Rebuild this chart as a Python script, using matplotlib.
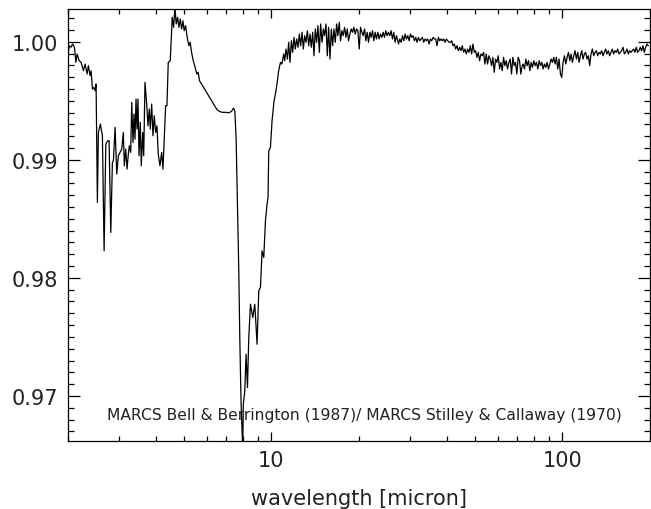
import matplotlib
matplotlib.use('Agg')
import matplotlib.pyplot as plt
from matplotlib.ticker import LogLocator, MultipleLocator, FuncFormatter, NullFormatter

# -- spectrum ratio

# 2 - 11.4 micron (band region)
wl_a = [1.998, 2.018, 2.050, 2.071, 2.104, 2.128, 2.149, 2.184, 2.218, 2.259,
        2.290, 2.326, 2.350, 2.382, 2.401, 2.426, 2.453, 2.478, 2.497, 2.523,
        2.543, 2.584, 2.625, 2.661, 2.697, 2.740, 2.768, 2.805, 2.841, 2.864,
        2.902, 2.941, 2.978, 3.018, 3.059, 3.098, 3.122, 3.157, 3.190, 3.223,
        3.248, 3.284, 3.311, 3.345, 3.371, 3.398, 3.425, 3.452, 3.479, 3.507,
        3.543, 3.571, 3.611, 3.640, 3.677, 3.727, 3.765, 3.804, 3.834, 3.877,
        3.917, 3.957, 4.001, 4.042, 4.084, 4.139, 4.195, 4.239, 4.283, 4.330,
        4.375, 4.420, 4.490, 4.533, 4.562, 4.612, 4.660, 4.708, 4.760, 4.810,
        4.859, 4.913, 4.964, 5.014, 5.070, 5.135, 5.204, 5.258, 5.316, 5.371,
        5.427, 5.487, 5.544, 5.601, 5.663, 5.754, 5.845, 5.938, 6.033, 6.129,
        6.226, 6.325, 6.426, 6.528, 6.632, 6.770, 6.954, 7.138, 7.292, 7.408,
        7.485, 7.561, 7.645, 7.724, 7.785, 7.866, 7.970, 8.004, 8.099, 8.183,
        8.273, 8.359, 8.472, 8.628, 8.765, 8.926, 9.047, 9.169, 9.285, 9.411,
        9.538, 9.659, 9.736, 9.789, 9.921, 10.05, 10.21, 10.32, 10.45, 10.59,
        10.74, 10.87, 11.02, 11.11, 11.22, 11.35]
fl_a = [0.99868, 0.99966, 0.99953, 0.99981, 0.99953, 0.99825, 0.99896, 0.99839, 0.99825, 0.99754,
        0.99811, 0.99726, 0.99797, 0.99712, 0.99754, 0.99599, 0.99614, 0.99585, 0.99642, 0.98639,
        0.99232, 0.99303, 0.99203, 0.98229, 0.99133, 0.99161, 0.99161, 0.98385, 0.98978, 0.98992,
        0.99275, 0.98879, 0.99034, 0.99063, 0.99091, 0.99232, 0.98949, 0.99091, 0.98921, 0.99048,
        0.99119, 0.99063, 0.99486, 0.99147, 0.99387, 0.99175, 0.99514, 0.99260, 0.99514, 0.99034,
        0.99317, 0.98949, 0.99232, 0.99034, 0.99656, 0.99472, 0.99288, 0.99430, 0.99260, 0.99472,
        0.99203, 0.99373, 0.99232, 0.99288, 0.99048, 0.98949, 0.99063, 0.98921, 0.99175, 0.99458,
        0.99458, 0.99825, 0.99839, 1.00065, 1.00207, 1.00122, 1.00290, 1.00150, 1.00207, 1.00122,
        1.00192, 1.00108, 1.00178, 1.00093, 1.00136, 1.00037, 0.99966, 0.99995, 0.99910, 0.99853,
        0.99811, 0.99769, 0.99726, 0.99741, 0.99669, 0.99642, 0.99614, 0.99585, 0.99557, 0.99529,
        0.99500, 0.99472, 0.99444, 0.99421, 0.99410, 0.99402, 0.99402, 0.99398, 0.99410, 0.99438,
        0.99415, 0.99190, 0.98625, 0.98059, 0.97495, 0.96930, 0.96550, 0.96930, 0.97042, 0.97353,
        0.97071, 0.97495, 0.97777, 0.97664, 0.97777, 0.97438, 0.97890, 0.97919, 0.98229, 0.98173,
        0.98483, 0.98625, 0.98681, 0.99076, 0.99105, 0.99331, 0.99500, 0.99557, 0.99642, 0.99754,
        0.99825, 0.99811, 0.99896, 0.99839, 0.99938, 0.99853]

# 11.5 - 27 micron
wl_c = [11.46, 11.58, 11.71, 11.83, 11.96, 12.08, 12.21, 12.34, 12.47, 12.60,
        12.74, 12.87, 13.01, 13.15, 13.29, 13.43, 13.57, 13.71, 13.86, 14.00,
        14.15, 14.30, 14.45, 14.61, 14.76, 14.92, 15.08, 15.23, 15.40, 15.56,
        15.72, 15.89, 16.06, 16.23, 16.40, 16.57, 16.75, 16.92, 17.10, 17.28,
        17.47, 17.65, 17.84, 18.03, 18.22, 18.41, 18.61, 18.80, 19.00, 19.20,
        19.41, 19.61, 19.82, 20.03, 20.24, 20.46, 20.67, 20.89, 21.11, 21.33,
        21.56, 21.79, 22.02, 22.25, 22.49, 22.73, 22.96, 23.21, 23.45, 23.70,
        23.95, 24.21, 24.46, 24.72, 24.98, 25.25, 25.51, 25.78, 26.06, 26.33,
        26.61, 26.89, 27.18]
fl_c = [0.99995, 0.99825, 1.00008, 0.99910, 1.00037, 0.99938, 1.00023, 0.99953, 1.00065, 0.99966,
        1.00080, 0.99938, 1.00051, 0.99995, 1.00093, 0.99966, 1.00065, 0.99953, 1.00080, 0.99881,
        1.00108, 0.99995, 1.00136, 0.99910, 1.00150, 0.99995, 1.00108, 1.00051, 1.00150, 0.99881,
        1.00122, 0.99853, 1.00108, 0.99966, 1.00108, 0.99995, 1.00150, 1.00051, 1.00164, 1.00008,
        1.00093, 1.00051, 1.00122, 1.00037, 1.00108, 1.00008, 1.00065, 1.00108, 1.00080, 1.00122,
        1.00065, 1.00108, 1.00093, 0.99938, 1.00122, 1.00080, 1.00051, 1.00108, 1.00008, 1.00080,
        0.99995, 1.00080, 1.00037, 1.00093, 1.00008, 1.00080, 1.00023, 1.00080, 1.00023, 1.00065,
        1.00037, 1.00080, 1.00037, 1.00093, 1.00051, 1.00080, 1.00051, 1.00093, 1.00023, 1.00080,
        0.99995, 1.00051, 1.00008]

# 27 - 73 micron
wl_d = [27.33, 27.62, 27.91, 28.21, 28.51, 28.81, 29.11, 29.42, 29.73, 30.04,
        30.36, 30.68, 31.01, 31.33, 31.67, 32.00, 32.34, 32.68, 33.02, 33.37,
        33.73, 34.08, 34.44, 34.81, 35.18, 35.55, 35.92, 36.30, 36.69, 37.08,
        37.47, 37.87, 38.27, 38.67, 39.08, 39.49, 39.91, 40.33, 40.76, 41.19,
        41.63, 42.07, 42.51, 42.96, 43.42, 43.88, 44.34, 44.81, 45.28, 45.76,
        46.25, 46.74, 47.23, 47.73, 48.24, 48.75, 49.26, 49.78, 50.31, 50.84,
        51.38, 51.93, 52.48, 53.03, 53.59, 54.16, 54.73, 55.31, 55.90, 56.49,
        57.09, 57.69, 58.30, 58.92, 59.54, 60.17, 60.81, 61.45, 62.10, 62.76,
        63.42, 64.09, 64.77, 65.46, 66.15, 66.85, 67.56, 68.28, 69.00, 69.73,
        70.47, 71.21, 71.97, 72.73]
fl_d = [0.99980, 1.00023, 0.99995, 1.00051, 1.00008, 1.00065, 1.00023, 1.00051, 1.00008, 1.00065,
        1.00037, 1.00051, 1.00008, 1.00037, 0.99995, 1.00037, 1.00008, 1.00023, 1.00037, 0.99995,
        1.00023, 1.00008, 1.00023, 0.99980, 1.00023, 1.00008, 1.00037, 1.00023, 1.00023, 0.99966,
        1.00037, 1.00008, 1.00023, 1.00008, 1.00023, 0.99995, 1.00023, 1.00008, 0.99995, 0.99995,
        1.00008, 0.99966, 0.99980, 0.99938, 0.99966, 0.99924, 0.99953, 0.99924, 0.99966, 0.99910,
        0.99938, 0.99896, 0.99938, 0.99910, 0.99966, 0.99896, 0.99980, 0.99910, 0.99924, 0.99868,
        0.99910, 0.99839, 0.99896, 0.99881, 0.99910, 0.99811, 0.99896, 0.99811, 0.99881, 0.99853,
        0.99797, 0.99868, 0.99741, 0.99853, 0.99825, 0.99881, 0.99769, 0.99825, 0.99754, 0.99868,
        0.99797, 0.99839, 0.99769, 0.99825, 0.99853, 0.99726, 0.99868, 0.99797, 0.99825, 0.99726,
        0.99868, 0.99839, 0.99726, 0.99797]

# 73 - 200 micron
wl_e = [73.31, 74.09, 74.87, 75.66, 76.46, 77.27, 78.09, 78.91, 79.75, 80.59,
        81.45, 82.31, 83.18, 84.06, 84.95, 85.85, 86.76, 87.67, 88.60, 89.54,
        90.49, 91.44, 92.41, 93.39, 94.38, 95.38, 96.39, 97.41, 98.44, 99.48,
        100.5, 101.6, 102.7, 103.8, 104.9, 106.0, 107.1, 108.2, 109.4, 110.5,
        111.7, 112.9, 114.1, 115.3, 116.5, 117.7, 119.0, 120.2, 121.5, 122.8,
        124.1, 125.4, 126.7, 128.1, 129.4, 130.8, 132.2, 133.6, 135.0, 136.4,
        137.9, 139.3, 140.8, 142.3, 143.8, 145.3, 146.9, 148.4, 150.0, 151.6,
        153.2, 154.8, 156.4, 158.1, 159.8, 161.5, 163.2, 164.9, 166.7, 168.4,
        170.2, 172.0, 173.8, 175.7, 177.5, 179.4, 181.3, 183.2, 185.2, 187.1,
        189.1, 191.1, 193.1, 195.2, 197.2]
fl_e = [0.99811, 0.99769, 0.99853, 0.99797, 0.99839, 0.99754, 0.99825, 0.99783, 0.99839, 0.99797,
        0.99825, 0.99769, 0.99839, 0.99797, 0.99825, 0.99769, 0.99811, 0.99783, 0.99825, 0.99769,
        0.99811, 0.99853, 0.99825, 0.99868, 0.99811, 0.99868, 0.99769, 0.99853, 0.99726, 0.99698,
        0.99825, 0.99881, 0.99811, 0.99868, 0.99910, 0.99839, 0.99896, 0.99825, 0.99881, 0.99924,
        0.99853, 0.99910, 0.99825, 0.99881, 0.99924, 0.99853, 0.99896, 0.99910, 0.99853, 0.99881,
        0.99797, 0.99896, 0.99938, 0.99881, 0.99910, 0.99924, 0.99881, 0.99910, 0.99896, 0.99924,
        0.99881, 0.99910, 0.99938, 0.99896, 0.99924, 0.99881, 0.99910, 0.99938, 0.99896, 0.99924,
        0.99910, 0.99938, 0.99896, 0.99910, 0.99924, 0.99953, 0.99896, 0.99910, 0.99938, 0.99896,
        0.99924, 0.99910, 0.99924, 0.99938, 0.99910, 0.99953, 0.99910, 0.99924, 0.99953, 0.99924,
        0.99966, 0.99910, 0.99953, 0.99980, 0.99966]

wl = wl_a + wl_c + wl_d + wl_e
fl = fl_a + fl_c + fl_d + fl_e

note = 'MARCS Bell & Berrington (1987)/ MARCS Stilley & Callaway (1970)'

fig = plt.figure(figsize=(6.51, 5.10), dpi=100)
ax = fig.add_axes([0.1045, 0.1339, 0.894, 0.8465])

ax.plot(wl, fl, color='black', lw=0.9)

ax.set_xscale('log')
ax.set_xlim(2.0, 200.0)
ax.set_ylim(0.96621, 1.00277)

ax.xaxis.set_major_locator(LogLocator(base=10, numticks=5))
ax.xaxis.set_minor_locator(LogLocator(base=10, subs=range(2, 10), numticks=20))
ax.xaxis.set_major_formatter(FuncFormatter(lambda v, p: '%d' % round(v)))
ax.xaxis.set_minor_formatter(NullFormatter())
ax.yaxis.set_major_locator(MultipleLocator(0.01))
ax.yaxis.set_minor_locator(MultipleLocator(0.001))
ax.yaxis.set_major_formatter(FuncFormatter(lambda v, p: '%.2f' % v))

ax.tick_params(axis='both', which='both', direction='in', top=True, right=True,
               width=0.9, labelsize=15, pad=7, labelcolor='#222222')
ax.tick_params(axis='y', which='major', length=8.5)
ax.tick_params(axis='y', which='minor', length=4.3)
ax.tick_params(axis='x', which='major', length=6.5)
ax.tick_params(axis='x', which='minor', length=3.3)
for s in ax.spines.values():
    s.set_linewidth(0.9)

ax.set_xlabel('wavelength [micron]', fontsize=15, labelpad=13, color='#222222')
ax.text(2.72, 0.96845, note, fontsize=11.2, ha='left', va='center', color='#222222')

fig.savefig('out.png', dpi=100)
